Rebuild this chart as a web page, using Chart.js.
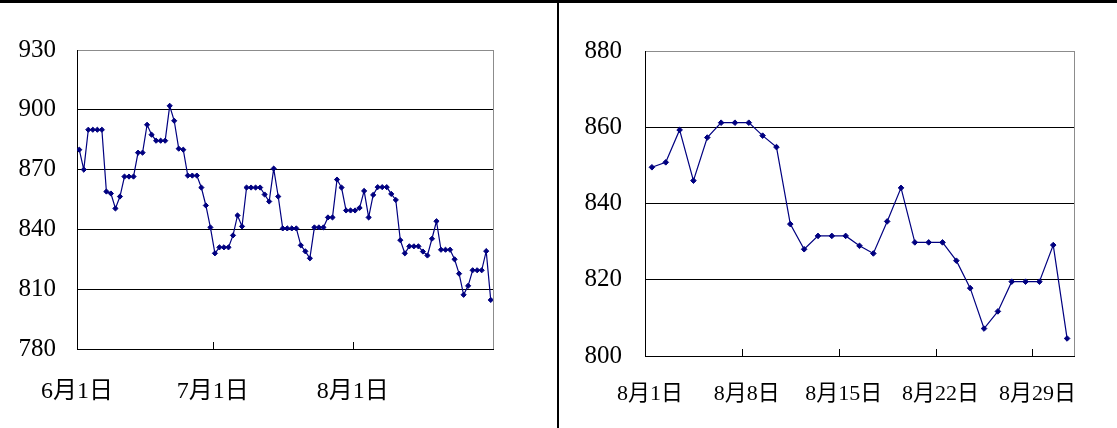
<!DOCTYPE html>
<html>
<head>
<meta charset="utf-8">
<script src="https://cdn.jsdelivr.net/npm/chart.js@4.4.1/dist/chart.umd.min.js"></script>
<style>
    body { margin: 0; background: #fff; width: 1117px; height: 428px; overflow: hidden; position: relative; }
    #topLine { position: absolute; left: 0; top: 0; width: 1117px; height: 3px; background: #000; }
    #divider { position: absolute; left: 557px; top: 0; width: 2px; height: 428px; background: #000; }
    #leftBox { position: absolute; left: 0; top: 0; }
    #rightBox { position: absolute; left: 559px; top: 0; }
</style>
</head>
<body>
<div id="leftBox"><canvas id="leftChart" width="557" height="428"></canvas></div>
<div id="rightBox"><canvas id="rightChart" width="558" height="428"></canvas></div>
<div id="topLine"></div>
<div id="divider"></div>
<script>
// 6月1日～7月31日 (日次)
const juneJulyValues = [
    880, 870, 890, 890, 890, 890, 859, 858, 850.5, 856.5,
    866.5, 866.5, 866.5, 878.5, 878.5, 892.5, 887.5, 884.5, 884.5, 884.5,
    902, 894.5, 880.5, 880, 867, 867, 867, 861, 852, 841,
    828, 831, 831, 831, 837, 847, 841.5, 861, 861, 861,
    861, 857.5, 854, 870.5, 856.5, 840.5, 840.5, 840.5, 840.5, 832,
    829, 825.5, 841, 841, 841, 846, 846, 865, 861, 849.5,
    849.5
];

// 8月1日～8月31日 (日次)
const augustValues = [
    849.5, 850.8, 859.3, 846, 857.3, 861.2, 861.2, 861.2, 857.8, 854.8,
    834.6, 828, 831.5, 831.5, 831.5, 828.9, 826.9, 835.3, 844.1, 829.8,
    829.8, 829.8, 825, 817.8, 807.2, 811.7, 819.5, 819.5, 819.5, 829.1,
    804.6
];

// 目盛り
const leftTickDays = [0, 30, 61];
const leftTickLabels = ['6月1日', '7月1日', '8月1日'];
const rightTickDays = [0, 7, 14, 21, 28];
const rightTickLabels = ['8月1日', '8月8日', '8月15日', '8月22日', '8月29日'];

const LINE_COLOR = '#000080';
const GRAY = '#8c8c8c';
const FONT = '"Liberation Serif", "Noto Sans CJK SC", serif';

// 内向きの目盛り線と右側の枠線
const frameTicks = {
    id: 'frameTicks',
    beforeDatasetsDraw(chart) {
        const { ctx, chartArea } = chart;
        const xs = chart.scales.x;
        ctx.save();
        ctx.strokeStyle = GRAY;
        ctx.lineWidth = 1;
        ctx.beginPath();
        ctx.moveTo(chartArea.right + 0.5, chartArea.top);
        ctx.lineTo(chartArea.right + 0.5, chartArea.bottom);
        ctx.stroke();
        ctx.strokeStyle = '#000';
        ctx.beginPath();
        xs.ticks.forEach(t => {
            if (t.value === xs.min) return;
            const px = Math.round(xs.getPixelForValue(t.value)) + 0.5;
            ctx.moveTo(px, chartArea.bottom);
            ctx.lineTo(px, chartArea.bottom - 7);
        });
        ctx.stroke();
        ctx.restore();
    }
};

function makeChart(canvasId, values, cfg) {
    const ctx = document.getElementById(canvasId).getContext('2d');
    return new Chart(ctx, {
        type: 'line',
        data: {
            datasets: [{
                data: values.map((v, i) => ({ x: i + 0.5, y: v })),
                borderColor: LINE_COLOR,
                backgroundColor: LINE_COLOR,
                borderWidth: 1.2,
                pointStyle: 'rectRot',
                pointRadius: cfg.pointRadius,
                pointBorderWidth: 1,
                pointBackgroundColor: LINE_COLOR,
                pointBorderColor: LINE_COLOR,
                tension: 0
            }]
        },
        options: {
            responsive: false,
            animation: false,
            layout: { padding: cfg.padding },
            plugins: { legend: { display: false }, tooltip: { enabled: false } },
            scales: {
                x: {
                    type: 'linear',
                    min: 0,
                    max: cfg.days,
                    afterBuildTicks: s => { s.ticks = cfg.tickDays.map(v => ({ value: v })); },
                    afterFit: s => { s.height = cfg.xHeight; },
                    grid: { display: false },
                    border: { display: true, color: '#000', width: 1 },
                    ticks: {
                        autoSkip: false,
                        maxRotation: 0,
                        padding: cfg.xPad,
                        labelOffset: cfg.labelOffset,
                        color: '#000',
                        font: { family: FONT, size: cfg.xFont },
                        callback: (v, i) => cfg.tickLabels[i]
                    }
                },
                y: {
                    min: cfg.yMin,
                    max: cfg.yMax,
                    afterFit: s => { s.width = cfg.yWidth; },
                    grid: {
                        drawTicks: false,
                        color: c => c.tick && c.tick.value === cfg.yMax ? GRAY : '#000',
                        lineWidth: 1
                    },
                    border: { display: true, color: '#000', width: 1 },
                    ticks: {
                        stepSize: cfg.yStep,
                        padding: cfg.yPad,
                        color: '#000',
                        font: { family: FONT, size: 25 }
                    }
                }
            }
        },
        plugins: [frameTicks]
    });
}

// 左: 6月～8月
makeChart('leftChart', juneJulyValues.concat(augustValues), {
    days: 92,
    tickDays: leftTickDays,
    tickLabels: leftTickLabels,
    yMin: 780, yMax: 930, yStep: 30,
    yWidth: 77, yPad: 21,
    xHeight: 79, xPad: 20, xFont: 24, labelOffset: 0,
    padding: { left: 0, right: 64, top: 50, bottom: 0 },
    pointRadius: 2.6
});

// 右: 8月
makeChart('rightChart', augustValues, {
    days: 31,
    tickDays: rightTickDays,
    tickLabels: rightTickLabels,
    yMin: 800, yMax: 880, yStep: 20,
    yWidth: 86, yPad: 23,
    xHeight: 72, xPad: 17, xFont: 22, labelOffset: 5,
    padding: { left: 0, right: 43, top: 51, bottom: 0 },
    pointRadius: 2.8
});
</script>
</body>
</html>
